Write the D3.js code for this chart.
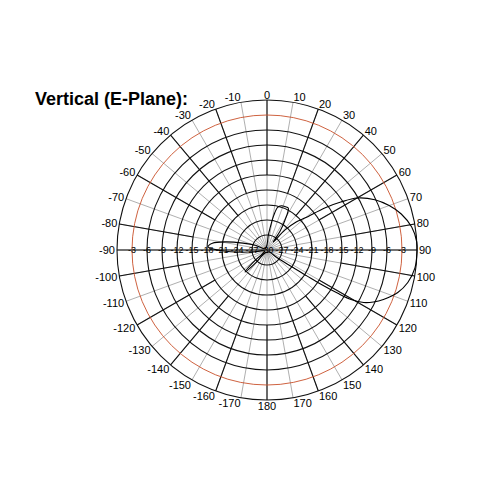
<!DOCTYPE html>
<html>
<head>
<meta charset="utf-8">
<script src="https://cdn.jsdelivr.net/npm/d3@7"></script>
<style>
  html, body { margin: 0; padding: 0; background: #fff; }
  svg { display: block; }
</style>
</head>
<body>
<svg id="chart" width="500" height="500"></svg>
<script>
// ring levels in dB (outer ring = 0 dB, centre = -30 dB)
const ringLevels = [-27, -24, -21, -18, -15, -12, -9, -6, -3, 0];
const redRing = -3;
const axisTicks = [-3, -6, -9, -12, -15, -18, -21, -24, -27];
// angle labels every 10 degrees, 0 at top, clockwise
const angleTicks = d3.range(-170, 190, 10);
// black spoke segments: angle -> inner end (dB)
const spokeAngles = [0, 20, 40, 60, 80, 100, 120, 140, 160, 180, -20, -40, -60, -80, -100, -120, -140, -160];
const spokeInner  = [-15, -18, -21, -18, -15, -15, -18, -18, -18, -15, -18, -21, -18, -15, -15, -18, -18, -18];

// measured pattern (deg clockwise from top, dB)
const patternAngles = [0, 5, 8, 11, 14, 18, 23, 27, 31, 35, 38, 42, 46, 50, 54, 57, 60, 65, 70, 75, 81, 87, 91,
  97, 103, 108, 113, 116, 118.5, 120.5, 121.5, 122.3, 123, 124.5, 127, 135, 160, 180, 200, 218, 222, 225, 228, 232,
  250, 262, 265, 269, 273, 277, 281, 286, 292, 300, 330];
const patternGain = [-29, -27, -25.5, -23, -21.2, -20.7, -20.6, -20.6, -23, -25.5, -28, -24.6, -22, -20, -15.6, -12.4, -9.2, -6.2, -4, -2.2, -0.7, 0, 0,
  -0.2, -1.1, -2.5, -4.7, -6.3, -8, -10.5, -13.5, -16.8, -20.5, -24.5, -27.5, -29.5, -29.5, -29.5, -29.5, -29, -26, -23.8, -26, -29,
  -29.5, -27.5, -25, -21, -18.2, -19, -21.5, -25, -27.5, -29.5, -29.5];

const cx = 267, cy = 250, R = 150;
const rad = d => d * Math.PI / 180;
const r = d3.scaleLinear().domain([-30, 0]).range([0, R]).clamp(true);
const px = (a, rr) => cx + rr * Math.sin(rad(a));
const py = (a, rr) => cy - rr * Math.cos(rad(a));

const svg = d3.select("#chart");
svg.append("rect").attr("width", 500).attr("height", 500).attr("fill", "#fff");

const grid = svg.append("g");

// thin grey spokes every 10 degrees
grid.selectAll("line.thin")
  .data(d3.range(0, 360, 10))
  .join("line")
  .attr("class", "thin")
  .attr("x1", cx).attr("y1", cy)
  .attr("x2", d => px(d, R)).attr("y2", d => py(d, R))
  .attr("stroke", "#9a9a9a")
  .attr("stroke-width", 0.8);

// black spoke segments
grid.selectAll("line.spoke")
  .data(spokeAngles.map((a, i) => ({a: a, inner: spokeInner[i]})))
  .join("line")
  .attr("class", "spoke")
  .attr("x1", d => px(d.a, r(d.inner))).attr("y1", d => py(d.a, r(d.inner)))
  .attr("x2", d => px(d.a, R)).attr("y2", d => py(d.a, R))
  .attr("stroke", "#111")
  .attr("stroke-width", 1.1);

// rings
grid.selectAll("circle.ring")
  .data(ringLevels)
  .join("circle")
  .attr("class", "ring")
  .attr("cx", cx).attr("cy", cy)
  .attr("r", d => r(d))
  .attr("fill", "none")
  .attr("stroke", d => d === redRing ? "#c8502a" : "#111")
  .attr("stroke-width", d => d === redRing ? 0.9 : 1.1);

// horizontal axis (-90 / 90)
grid.append("line")
  .attr("x1", px(-90, R)).attr("y1", cy)
  .attr("x2", px(90, R)).attr("y2", cy)
  .attr("stroke", "#111").attr("stroke-width", 1.1);

// dB tick labels along the horizontal axis
const tickG = svg.append("g")
  .attr("font-family", "Liberation Sans, Arial, sans-serif")
  .attr("font-size", 9)
  .attr("fill", "#000")
  .attr("text-anchor", "middle")
  .attr("dominant-baseline", "central");
axisTicks.forEach(t => {
  tickG.append("text").attr("x", cx - r(t)).attr("y", cy).text(t);
  tickG.append("text").attr("x", cx + r(t)).attr("y", cy).text(t);
});
tickG.append("text").attr("x", cx).attr("y", cy).text(-30);

// angle labels round the outside
svg.append("g")
  .attr("font-family", "Liberation Sans, Arial, sans-serif")
  .attr("font-size", 11)
  .attr("fill", "#000")
  .attr("dominant-baseline", "central")
  .selectAll("text")
  .data(angleTicks)
  .join("text")
  .attr("x", d => px(d, R + 2))
  .attr("y", d => py(d, R + 2) - Math.cos(rad(d)) * 3.5)
  .attr("text-anchor", d => (d === 0 || d === 180) ? "middle" : (d > 0 ? "start" : "end"))
  .text(d => d);

// pattern
const line = d3.lineRadial()
  .angle(d => rad(d[0]))
  .radius(d => r(d[1]))
  .curve(d3.curveCatmullRomClosed.alpha(0.5));

svg.append("path")
  .datum(patternAngles.map((a, i) => [a, patternGain[i]]))
  .attr("transform", `translate(${cx},${cy})`)
  .attr("d", line)
  .attr("fill", "none")
  .attr("stroke", "#000")
  .attr("stroke-width", 1.1);

// title
svg.append("text")
  .attr("x", 35).attr("y", 105)
  .attr("font-family", "Liberation Sans, Arial, sans-serif")
  .attr("font-weight", "bold")
  .attr("font-size", 18)
  .attr("fill", "#000")
  .text("Vertical (E-Plane):");
</script>
</body>
</html>
